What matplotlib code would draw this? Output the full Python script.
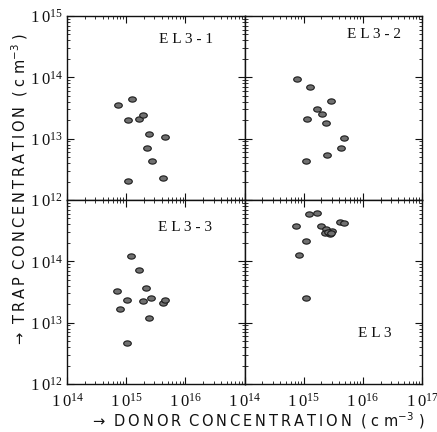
import numpy as np
import matplotlib
matplotlib.use("Agg")
import matplotlib.pyplot as plt
from matplotlib.path import Path
from matplotlib.ticker import LogLocator, NullFormatter, FixedLocator, FixedFormatter

# ---- data ----
el31_x = [7.4e14, 1.25e15, 1.09e15, 1.64e15, 1.96e15, 2.45e15, 4.6e15, 2.27e15, 2.76e15, 1.08e15, 4.24e15]
el31_y = [3.5e13, 4.4e13, 2.0e13, 2.07e13, 2.4e13, 1.18e13, 1.06e13, 6.95e12, 4.3e12, 2.03e12, 2.25e12]

el32_x = [7.6e14, 1.26e15, 2.87e15, 1.68e15, 2.04e15, 1.12e15, 2.36e15, 4.77e15, 4.29e15, 2.48e15, 1.08e15]
el32_y = [9.3e13, 7.0e13, 4.15e13, 3.0e13, 2.5e13, 2.1e13, 1.78e13, 1.02e13, 7.1e12, 5.5e12, 4.3e12]

el33_x = [1.23e15, 1.62e15, 7.0e14, 2.18e15, 1.05e15, 8.0e14, 1.89e15, 2.68e15, 4.12e15, 4.53e15, 2.39e15, 1.04e15]
el33_y = [1.22e14, 7.2e13, 3.27e13, 3.63e13, 2.31e13, 1.67e13, 2.22e13, 2.55e13, 2.07e13, 2.37e13, 1.17e13, 4.7e12]

el3_x = [1.23e15, 1.68e15, 7.4e14, 4.19e15, 4.77e15, 1.96e15, 2.43e15, 3.06e15, 2.3e15, 2.76e15,
         2.6e15, 2.9e15, 1.08e15, 8.3e14, 1.09e15]
el3_y = [5.85e14, 6.07e14, 3.77e14, 4.43e14, 4.21e14, 3.77e14, 3.33e14, 3.16e14, 2.87e14, 2.76e14,
         3.0e14, 2.95e14, 2.14e14, 1.27e14, 2.52e13]

panel_labels = ["E L 3 - 1", "E L 3 - 2", "E L 3 - 3", "E L 3"]
x_ticks_left = [1e14, 1e15, 1e16]
x_ticks_right = [1e14, 1e15, 1e16, 1e17]
y_ticks_top = [1e12, 1e13, 1e14, 1e15]
y_ticks_bottom = [1e12, 1e13, 1e14]

# ---- figure ----
fig = plt.figure(figsize=(4.37, 4.32), dpi=100)
fig.patch.set_facecolor("white")
L, R, T, B = 67/437, 422/437, 1-16/432, 1-384/432
gs = fig.add_gridspec(2, 2, left=L, right=R, top=T, bottom=B, wspace=0, hspace=0)

# ellipse marker
t = np.linspace(0, 2*np.pi, 40)
verts = np.column_stack([1.45*np.cos(t), np.sin(t)])
ell = Path(verts, closed=True)

serif = "Liberation Serif"

def tick_label(v):
    e = int(round(np.log10(v)))
    return r"$\mathregular{1\,0^{%d}}$" % e

def spaced(s):
    ts = "\u2009"
    words = s.split(" ")
    return (" " + ts).join(ts.join(list(w)) for w in words)

data = [(el31_x, el31_y), (el32_x, el32_y), (el33_x, el33_y), (el3_x, el3_y)]
label_pos = [(0.67, 0.87), (0.73, 0.90), (0.665, 0.853), (0.734, 0.277)]

axes = []
for i in range(4):
    r, c = divmod(i, 2)
    ax = fig.add_subplot(gs[r, c])
    axes.append(ax)
    ax.set_xscale("log")
    ax.set_yscale("log")
    ax.set_xlim(1e14, 1e17)
    ax.set_ylim(1e12, 1e15)
    xs, ys = data[i]
    ax.scatter(xs, ys, marker=ell, s=30, facecolor="#707070", edgecolor="#1a1a1a", linewidths=0.8, zorder=3)
    ax.text(label_pos[i][0], label_pos[i][1], panel_labels[i], transform=ax.transAxes,
            ha="center", va="center", fontsize=11, family=serif, color="#111111")
    for sp in ax.spines.values():
        sp.set_linewidth(1.0)
        sp.set_color("#111111")
    ax.xaxis.set_minor_locator(LogLocator(base=10, subs=np.arange(2, 10), numticks=20))
    ax.yaxis.set_minor_locator(LogLocator(base=10, subs=np.arange(2, 10), numticks=20))
    ax.xaxis.set_minor_formatter(NullFormatter())
    ax.yaxis.set_minor_formatter(NullFormatter())
    ax.tick_params(which="both", direction="in", top=True, right=True, colors="#111111")
    ax.tick_params(which="major", length=5, width=0.8)
    ax.tick_params(which="minor", length=2.5, width=0.6)
    if r == 1:
        xt = x_ticks_left if c == 0 else x_ticks_right
        ax.xaxis.set_major_locator(FixedLocator(xt))
        ax.xaxis.set_major_formatter(FixedFormatter([tick_label(v) for v in xt]))
        ax.tick_params(axis="x", which="major", labelsize=12, pad=6)
    else:
        ax.xaxis.set_major_locator(FixedLocator(x_ticks_right))
        ax.tick_params(axis="x", labelbottom=False)
    if c == 0:
        yt = y_ticks_top if r == 0 else y_ticks_bottom
        ax.yaxis.set_major_locator(FixedLocator(yt))
        ax.yaxis.set_major_formatter(FixedFormatter([tick_label(v) for v in yt]))
        ax.tick_params(axis="y", which="major", labelsize=12, pad=3)
    else:
        ax.yaxis.set_major_locator(FixedLocator(y_ticks_top))
        ax.tick_params(axis="y", labelleft=False)
    for lab in ax.get_xticklabels() + ax.get_yticklabels():
        lab.set_family(serif)

xlab = "→  " + spaced("DONOR CONCENTRATION") + "  ( c m$^{-3}$ )"
ylab = "→  " + spaced("TRAP CONCENTRATION") + "  ( c m$^{-3}$ )"
fig.text(0.591, 0.026, xlab, ha="center", va="center", fontsize=10.5, color="#111111")
fig.text(0.045, 0.562, ylab, ha="center", va="center", rotation=90, fontsize=10.5, color="#111111")

fig.savefig("out.png", dpi=100, facecolor="white")
